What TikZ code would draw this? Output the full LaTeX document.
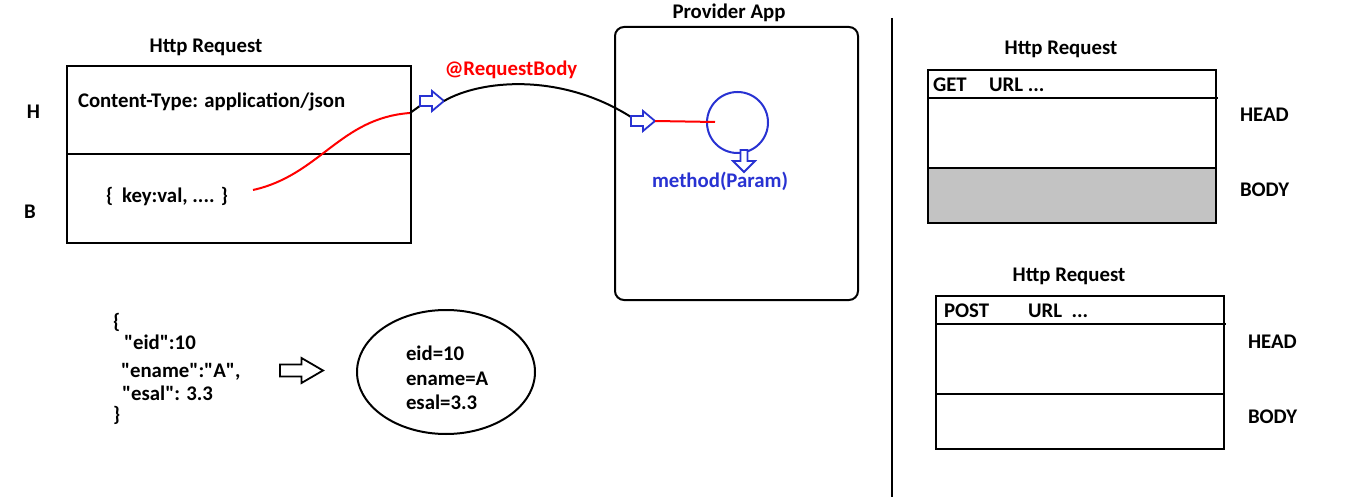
\documentclass[tikz,border=0pt]{standalone}
\usepackage{fontspec}
\setmainfont{Carlito}[Ligatures=TeXOff]
\usetikzlibrary{shapes.geometric}
\definecolor{myblue}{RGB}{40,50,210}
\definecolor{myred}{RGB}{255,0,0}
\definecolor{boxgray}{RGB}{195,195,195}
\begin{document}
\begin{tikzpicture}[x=1pt,y=-1pt, line width=2pt,
  font=\bfseries\fontsize{20.8}{24}\selectfont,
  txt/.style={inner sep=0pt, anchor=base west},
  ctxt/.style={inner sep=0pt, anchor=base},
  bluearr/.pic={\draw[pic actions] (-12,-5) -- (0,-5) -- (0,-10) -- (12,0) -- (0,10) -- (0,5) -- (-12,5) -- cycle;
    \coordinate (-tail) at (-12,0); \coordinate (-tip) at (12,0);},
  downarr/.pic={\draw[pic actions] (-3.5,-11) -- (3.5,-11) -- (3.5,0) -- (11,0) -- (0,11) -- (-11,0) -- (-3.5,0) -- cycle;
    \coordinate (-tail) at (0,-11); \coordinate (-tip) at (0,11);},
  bigarr/.pic={\draw[pic actions] (-21.5,-6) -- (0,-6) -- (0,-12.5) -- (21.5,0) -- (0,12.5) -- (0,6) -- (-21.5,6) -- cycle;
    \coordinate (-tail) at (-21.5,0); \coordinate (-tip) at (21.5,0);},
  arrstyle/.style={draw=myblue, fill=white, line width=1.8pt, line join=miter}
]
\useasboundingbox[fill=white] (0,0) rectangle (1366,497);

% ---------- left Http Request box ----------
\node[ctxt] (lt) at (206,53) {Http Request};
\draw (67,66) rectangle (411,243);
\draw (67,154) -- (411,154);
\node[txt] (hl) at (26,119) {H};
\node[txt] (bl) at (23,219) {B};
\node[txt] (ct) at (77,108) {Content-Type: application/json};
\node[txt] (kv) at (105,203) {\{\hspace{9pt}key:val, .... \}};

% ---------- Provider App ----------
\node[ctxt] (pt) at (729,19) {Provider App};
\draw[rounded corners=9pt] (615,27) rectangle (858,300);
\node[circle, draw=myblue, minimum size=61pt, inner sep=0pt] (circ) at (737.5,122.5) {};
\node[ctxt, text=myblue] (meth) at (720,188) {method(Param)};
\node[ctxt, text=myred] (rb) at (511,76) {@RequestBody};

% connectors
\coordinate (rs) at (253,190);
\coordinate (re) at (410,113);
\coordinate (rl) at (715,122);
\coordinate (a2t) at (631,117);
\draw[myred] (rs) .. controls (320,175) and (340,118) .. (re);
\draw (re) -- (424,103);
\pic[arrstyle] (a1) at (432,101) {bluearr};
\draw (a1-tip) .. controls (480,80) and (560,72) .. (a2t);
\pic[arrstyle] (a2) at (643,121) {bluearr};
\draw[myred] (a2-tip) -- (rl);
\pic[arrstyle] (a3) at (744,161) {downarr};

% ---------- JSON ----------
\node[txt] (j1) at (112,328) {\{};
\node[txt] (j2) at (123,349) {"eid":10};
\node[txt] (j3) at (120,377) {"ename":"A",};
\node[txt] (j4) at (121,400) {"esal": 3.3};
\node[txt] (j5) at (112,421) {\}};
\pic[draw=black, fill=white, line width=1.8pt] (ba) at (301.5,370.5) {bigarr};
\node[ellipse, draw, minimum width=178pt, minimum height=124pt, inner sep=0pt] (ell) at (446,372) {};
\node[txt] (e1) at (405,360) {eid=10};
\node[txt] (e2) at (405,385) {ename=A};
\node[txt] (e3) at (405,409) {esal=3.3};

% ---------- separator ----------
\draw (892,18) -- (892,497);

% ---------- right top (GET) ----------
\node[ctxt] (rt1) at (1061,55) {Http Request};
\fill[boxgray] (928,168) rectangle (1216,223);
\draw (928,70) rectangle (1216,223);
\draw (928,98) -- (1218,98);
\draw (928,168) -- (1216,168);
\node[txt] (get) at (932,92) {GET};
\node[txt] (url1) at (988,92) {URL ...};
\node[txt] (hd1) at (1239,122) {HEAD};
\node[txt] (bd1) at (1239,197) {BODY};

% ---------- right bottom (POST) ----------
\node[ctxt] (rt2) at (1069,281) {Http Request};
\draw (936,296) rectangle (1224,449);
\draw (936,324) -- (1226,324);
\draw (936,394) -- (1224,394);
\node[txt] (post) at (943,317) {POST};
\node[txt] (url2) at (1027,317) {URL\ \ ...};
\node[txt] (hd2) at (1247,348) {HEAD};
\node[txt] (bd2) at (1247,423) {BODY};
\end{tikzpicture}
\end{document}
